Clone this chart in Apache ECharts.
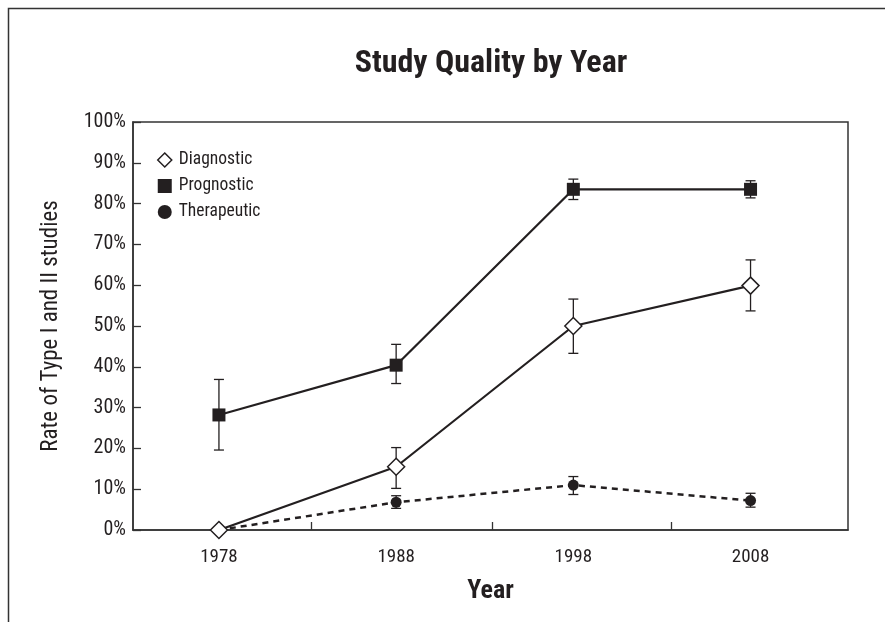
<!DOCTYPE html>
<html>
<head>
<meta charset="utf-8">
<title>Study Quality by Year</title>
<script src="https://cdn.jsdelivr.net/npm/echarts@6/dist/echarts.min.js"></script>
<style>
  html, body { margin: 0; padding: 0; background: #ffffff; }
  #chart { width: 885px; height: 622px; }
</style>
</head>
<body>
<div id="chart"></div>
<script>
// Survey years
const years = [1978, 1988, 1998, 2008];

// Rate (%) of Type I and II studies, with error-bar bounds
const diagnostic = [0, 15.5, 50.0, 59.9];
const diagnosticLow = [null, 10.2, 43.3, 53.7];
const diagnosticHigh = [null, 20.2, 56.6, 66.2];

const prognostic = [28.2, 40.4, 83.5, 83.5];
const prognosticLow = [19.6, 35.9, 81.0, 81.4];
const prognosticHigh = [36.9, 45.5, 86.0, 85.6];

const therapeutic = [0, 6.8, 11.0, 7.2];
const therapeuticLow = [null, 5.3, 8.7, 5.6];
const therapeuticHigh = [null, 8.4, 13.1, 9.0];

// Axis labels
const yTickValues = [0, 10, 20, 30, 40, 50, 60, 70, 80, 90, 100];
const xLabelYears = [1978, 1988, 1998, 2008];
const xTickYears = [1983.2, 1993.4, 2003.5];

const FONT = '"Liberation Sans Narrow", "Roboto Condensed", "Arial Narrow", sans-serif';
const INK = '#231f20';

function pairs(xs, ys) {
  return xs.map((x, i) => [x, ys[i]]);
}

function bars(xs, lo, hi) {
  const out = [];
  xs.forEach((x, i) => {
    if (lo[i] != null && hi[i] != null) out.push([x, lo[i], hi[i]]);
  });
  return out;
}

function errorBarSeries(name, data) {
  return {
    type: 'custom',
    name: name + ' range',
    z: 1,
    silent: true,
    encode: { x: 0, y: [1, 2] },
    data: data,
    renderItem: function (params, api) {
      const x = api.value(0);
      const lo = api.coord([x, api.value(1)]);
      const hi = api.coord([x, api.value(2)]);
      const half = 5;
      const style = { stroke: INK, lineWidth: 1.3 };
      return {
        type: 'group',
        children: [
          { type: 'line', shape: { x1: lo[0], y1: lo[1], x2: hi[0], y2: hi[1] }, style: style },
          { type: 'line', shape: { x1: lo[0] - half, y1: lo[1], x2: lo[0] + half, y2: lo[1] }, style: style },
          { type: 'line', shape: { x1: hi[0] - half, y1: hi[1], x2: hi[0] + half, y2: hi[1] }, style: style }
        ]
      };
    }
  };
}

const therapeuticData = pairs(years, therapeutic).map((p, i) =>
  i === 0 ? { value: p, symbol: 'none' } : p
);

const chart = echarts.init(document.getElementById('chart'), null, { renderer: 'canvas' });

chart.setOption({
  backgroundColor: '#ffffff',
  animation: false,
  textStyle: { fontFamily: FONT, color: INK },
  title: {
    text: 'Study Quality by Year',
    left: 486,
    top: 43,
    textAlign: 'center',
    textStyle: { fontFamily: FONT, fontSize: 32, fontWeight: 'bold', color: INK }
  },
  graphic: [
    {
      type: 'polyline',
      silent: true,
      shape: { points: [[8.5, 622], [8.5, 8.5], [885, 8.5]] },
      style: { stroke: '#333333', lineWidth: 1.5, fill: null }
    }
  ],
  legend: {
    orient: 'vertical',
    left: 152,
    top: 146,
    itemWidth: 14,
    itemHeight: 14,
    itemGap: 8,
    textStyle: { fontFamily: FONT, fontSize: 17.5, color: INK, lineHeight: 17, padding: [0, 0, 0, 2] },
    data: [
      { name: 'Diagnostic', icon: 'diamond', itemStyle: { color: '#ffffff', borderColor: INK, borderWidth: 1.5 } },
      { name: 'Prognostic', icon: 'rect', itemStyle: { color: INK, borderWidth: 0 } },
      { name: 'Therapeutic', icon: 'circle', itemStyle: { color: INK, borderWidth: 0 } }
    ]
  },
  grid: {
    left: 133,
    right: 37,
    top: 122,
    bottom: 92,
    show: true,
    borderColor: '#333333',
    borderWidth: 1.5,
    backgroundColor: 'transparent'
  },
  xAxis: {
    type: 'value',
    min: 1973.15,
    max: 2013.5,
    name: 'Year',
    nameLocation: 'middle',
    nameGap: 48,
    nameTextStyle: { fontFamily: FONT, fontSize: 26, fontWeight: 'bold', color: INK },
    axisLine: { show: true, onZero: false, lineStyle: { color: '#333333', width: 1.5 } },
    axisTick: {
      show: true,
      inside: true,
      length: 8,
      customValues: xTickYears,
      lineStyle: { color: '#333333', width: 1.3 }
    },
    axisLabel: {
      show: true,
      margin: 18,
      customValues: xLabelYears,
      formatter: v => String(Math.round(v)),
      fontFamily: FONT,
      fontSize: 19,
      color: INK
    },
    splitLine: { show: false }
  },
  yAxis: {
    type: 'value',
    min: 0,
    max: 100,
    interval: 10,
    name: 'Rate of Type I and II studies',
    nameLocation: 'middle',
    nameGap: 70,
    nameTextStyle: { fontFamily: FONT, fontSize: 23, color: INK },
    axisLine: { show: true, lineStyle: { color: '#333333', width: 1.5 } },
    axisTick: { show: true, inside: true, length: 8, lineStyle: { color: '#333333', width: 1.3 } },
    axisLabel: {
      margin: 7,
      fontFamily: FONT,
      fontSize: 20,
      color: INK,
      customValues: yTickValues,
      formatter: v => v + '%'
    },
    splitLine: { show: false }
  },
  series: [
    errorBarSeries('Diagnostic', bars(years, diagnosticLow, diagnosticHigh)),
    errorBarSeries('Prognostic', bars(years, prognosticLow, prognosticHigh)),
    errorBarSeries('Therapeutic', bars(years, therapeuticLow, therapeuticHigh)),
    {
      name: 'Therapeutic',
      type: 'line',
      z: 2,
      data: therapeuticData,
      symbol: 'circle',
      symbolSize: 11,
      showAllSymbol: true,
      lineStyle: { color: INK, width: 2.5, type: [6, 5] },
      itemStyle: { color: INK, borderWidth: 0 }
    },
    {
      name: 'Prognostic',
      type: 'line',
      z: 3,
      data: pairs(years, prognostic),
      symbol: 'rect',
      symbolSize: 13,
      showAllSymbol: true,
      lineStyle: { color: INK, width: 2.2 },
      itemStyle: { color: INK, borderWidth: 0 }
    },
    {
      name: 'Diagnostic',
      type: 'line',
      z: 4,
      data: pairs(years, diagnostic),
      symbol: 'diamond',
      symbolSize: 17,
      showAllSymbol: true,
      lineStyle: { color: INK, width: 2.2 },
      itemStyle: { color: '#ffffff', borderColor: INK, borderWidth: 1.5 }
    }
  ]
});
</script>
</body>
</html>
